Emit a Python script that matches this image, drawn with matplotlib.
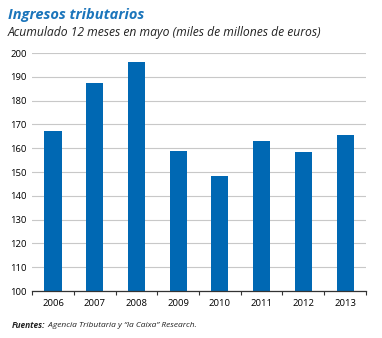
import matplotlib
matplotlib.use("Agg")
import matplotlib.pyplot as plt

years = ["2006", "2007", "2008", "2009", "2010", "2011", "2012", "2013"]
ingresos = [167.2, 187.5, 196.3, 158.8, 148.3, 163.0, 158.3, 165.6]
yticks = list(range(100, 201, 10))

BLUE = "#0068b3"
TITLE_BLUE = "#1b75bb"
plt.rcParams["font.family"] = ["Open Sans", "DejaVu Sans"]

fig = plt.figure(figsize=(3.82, 3.38), dpi=100)
ax = fig.add_axes([0.084, 0.139, 0.874, 0.704])

x = list(range(len(years)))
ax.bar(x, ingresos, width=0.41, color=BLUE, zorder=3)
ax.set_xlim(-0.5, len(years) - 0.5)
ax.set_ylim(100, 200)
ax.set_yticks(yticks)
ax.set_yticklabels([str(v) for v in yticks], fontsize=6.8)
ax.yaxis.grid(True, color="#c8c8c8", linewidth=0.8, zorder=0)
ax.tick_params(axis="y", length=0, pad=4)

# category labels with boundary ticks
ax.set_xticks(x)
ax.set_xticklabels(years, fontsize=6.8)
ax.tick_params(axis="x", which="major", length=0, pad=6)
ax.set_xticks([i - 0.5 for i in range(len(years) + 1)], minor=True)
ax.tick_params(axis="x", which="minor", length=3, direction="out", width=0.8, color="#333333")

for side in ["left", "right", "top"]:
    ax.spines[side].set_visible(False)
ax.spines["bottom"].set_color("#333333")
ax.spines["bottom"].set_linewidth(0.9)
ax.spines["bottom"].set_zorder(4)

fig.text(0.02, 0.955, "Ingresos tributarios", fontsize=10.5, fontweight="bold",
         fontstyle="italic", color=TITLE_BLUE, va="center")
fig.text(0.02, 0.905, "Acumulado 12 meses en mayo (miles de millones de euros)",
         fontsize=8.7, fontstyle="italic", color="#222222", va="center")

t1 = fig.text(0.032, 0.038, "Fuentes:", fontsize=6, fontweight="bold",
              fontstyle="italic", color="#222222", va="center")
ax.annotate(" Agencia Tributaria y \u201cla Caixa\u201d Research.", xy=(1, 0.5),
            xycoords=t1, va="center", ha="left", fontsize=6,
            fontstyle="italic", color="#222222", annotation_clip=False)

fig.savefig("out.png", dpi=100)
